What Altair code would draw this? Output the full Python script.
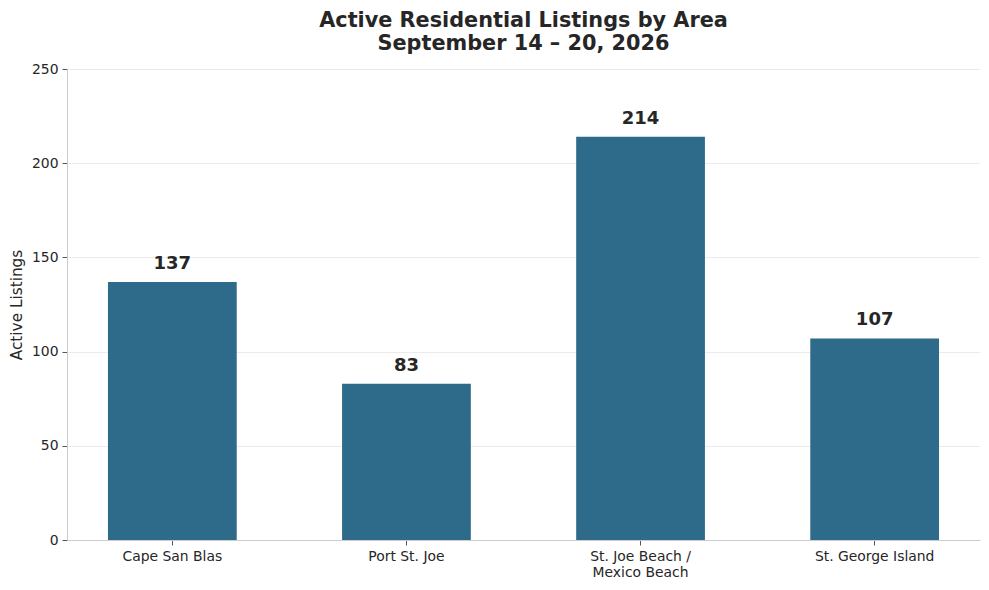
import altair as alt
import pandas as pd

areas = ["Cape San Blas", "Port St. Joe", "St. Joe Beach /\nMexico Beach", "St. George Island"]
listings = [137, 83, 214, 107]
y_ticks = [0, 50, 100, 150, 200, 250]

df = pd.DataFrame({"area": areas, "listings": listings})

FONT = "DejaVu Sans"
DARK = "#262626"

x_enc = alt.X(
    "area:N",
    sort=areas,
    title=None,
    scale=alt.Scale(paddingInner=0.45, paddingOuter=0.175),
    axis=alt.Axis(
        labelAngle=0,
        labelExpr="split(datum.label, '\\n')",
        labelFontSize=13.9,
        labelColor=DARK,
        labelFont=FONT,
        labelPadding=4,
        labelLineHeight=16,
        tickColor="#555555",
        tickSize=5,
        domainColor="#cccccc",
        grid=False,
    ),
)
y_enc = alt.Y(
    "listings:Q",
    title="Active Listings",
    scale=alt.Scale(domain=[0, 250], nice=False),
    axis=alt.Axis(
        values=y_ticks,
        labelFontSize=13.9,
        labelColor=DARK,
        labelFont=FONT,
        labelPadding=4,
        tickColor="#555555",
        tickSize=5,
        domainColor="#cccccc",
        gridColor="#ebebeb",
        titleFont=FONT,
        titleFontSize=15.3,
        titleFontWeight="normal",
        titleColor=DARK,
        titlePadding=7,
    ),
)

bars = alt.Chart(df).mark_bar(color="#2e6b8a").encode(x=x_enc, y=y_enc)
labels = alt.Chart(df).mark_text(
    baseline="bottom", dy=-9, fontSize=18, fontWeight="bold", font=FONT, color=DARK
).encode(x=alt.X("area:N", sort=areas), y="listings:Q", text="listings:Q")

chart = (
    alt.layer(bars, labels)
    .properties(
        width=913,
        height=471,
        autosize=alt.AutoSizeParams(type="none"),
        padding={"left": 59, "top": 61, "right": 1, "bottom": 50},
        title=alt.TitleParams(
            text=["Active Residential Listings by Area", "September 14 \u2013 20, 2026"],
            font=FONT,
            fontSize=20.8,
            fontWeight="bold",
            color=DARK,
            anchor="middle",
            lineHeight=23,
            offset=7,
        ),
    )
    .configure_view(stroke=None)
)

chart.save("out.html", embed_options={"renderer": "svg", "actions": False})
